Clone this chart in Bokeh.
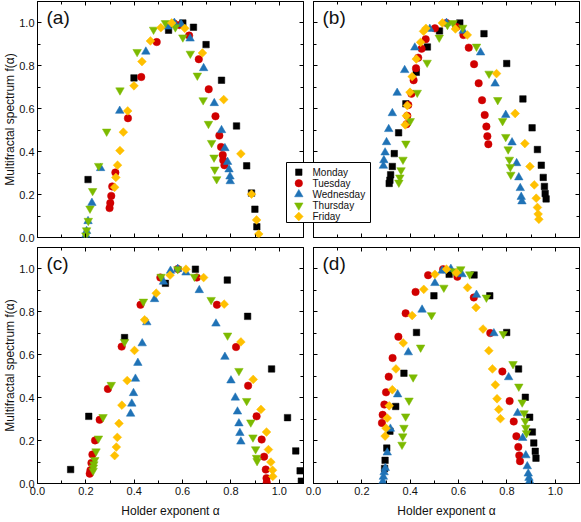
import math
from bokeh.plotting import figure
from bokeh.models import (Range1d, LinearAxis, SingleIntervalTicker, PrintfTickFormatter,
                          Label, ColumnDataSource)
from bokeh.core.properties import value
from bokeh.layouts import column, row
from bokeh.embed import file_html
from bokeh.resources import INLINE

days = ["Monday", "Tuesday", "Wednesday", "Thursday", "Friday"]
panel_tags = ["(a)", "(b)", "(c)", "(d)"]
x_title = "Holder exponent \u03b1"
y_title = "Multifractal spectrum f(\u03b1)"

# ---------------- panel (a) ----------------
a_mon_x = [0.209, 0.399, 0.542, 0.601, 0.645, 0.697, 0.761, 0.823, 0.865, 0.885, 0.899, 0.907]
a_mon_y = [0.270, 0.744, 0.966, 1.000, 0.980, 0.899, 0.733, 0.520, 0.334, 0.207, 0.132, 0.050]
a_tue_x = [0.298, 0.301, 0.305, 0.309, 0.322, 0.374, 0.429, 0.493, 0.565, 0.588, 0.627, 0.667, 0.708, 0.736, 0.752, 0.759, 0.766, 0.768, 0.773]
a_tue_y = [0.137, 0.161, 0.194, 0.238, 0.303, 0.556, 0.748, 0.911, 0.997, 0.990, 0.941, 0.831, 0.691, 0.565, 0.475, 0.422, 0.385, 0.360, 0.337]
a_wed_x = [0.200, 0.203, 0.209, 0.225, 0.261, 0.340, 0.448, 0.539, 0.566, 0.594, 0.631, 0.687, 0.731, 0.761, 0.775, 0.786, 0.792, 0.796, 0.797]
a_wed_y = [0.011, 0.030, 0.076, 0.161, 0.323, 0.590, 0.866, 0.983, 1.000, 0.994, 0.927, 0.789, 0.626, 0.500, 0.416, 0.352, 0.317, 0.284, 0.262]
a_thu_x = [0.200, 0.203, 0.210, 0.217, 0.228, 0.253, 0.286, 0.341, 0.412, 0.480, 0.529, 0.570, 0.601, 0.632, 0.661, 0.685, 0.707, 0.720, 0.730, 0.733, 0.741]
a_thu_y = [0.010, 0.034, 0.078, 0.135, 0.217, 0.334, 0.494, 0.686, 0.865, 0.969, 1.000, 0.980, 0.933, 0.857, 0.755, 0.640, 0.530, 0.441, 0.373, 0.317, 0.272]
a_fri_x = [0.319, 0.324, 0.331, 0.341, 0.355, 0.373, 0.399, 0.432, 0.467, 0.510, 0.555, 0.609, 0.682, 0.770, 0.841, 0.885, 0.906, 0.915]
a_fri_y = [0.234, 0.280, 0.337, 0.405, 0.491, 0.590, 0.707, 0.820, 0.916, 0.978, 1.000, 0.975, 0.860, 0.643, 0.390, 0.202, 0.082, 0.016]

# ---------------- panel (b) ----------------
b_mon_x = [0.313, 0.316, 0.319, 0.326, 0.334, 0.352, 0.382, 0.425, 0.471, 0.521, 0.605, 0.705, 0.799, 0.866, 0.904, 0.926, 0.942, 0.950, 0.955, 0.958, 0.962]
b_mon_y = [0.252, 0.267, 0.292, 0.331, 0.391, 0.488, 0.623, 0.770, 0.888, 0.963, 1.000, 0.950, 0.811, 0.646, 0.511, 0.410, 0.337, 0.280, 0.238, 0.205, 0.180]
b_tue_x = [0.385, 0.388, 0.392, 0.405, 0.414, 0.424, 0.433, 0.447, 0.464, 0.502, 0.550, 0.591, 0.620, 0.642, 0.664, 0.683, 0.697, 0.708, 0.715, 0.719, 0.723]
b_tue_y = [0.528, 0.567, 0.618, 0.670, 0.733, 0.789, 0.838, 0.880, 0.924, 0.975, 1.000, 0.981, 0.944, 0.885, 0.808, 0.719, 0.640, 0.571, 0.517, 0.472, 0.435]
b_wed_x = [0.289, 0.291, 0.296, 0.302, 0.311, 0.326, 0.346, 0.377, 0.419, 0.481, 0.550, 0.619, 0.691, 0.751, 0.795, 0.821, 0.840, 0.849, 0.855, 0.859, 0.862]
b_wed_y = [0.334, 0.360, 0.396, 0.444, 0.505, 0.579, 0.674, 0.780, 0.885, 0.972, 1.000, 0.963, 0.862, 0.717, 0.571, 0.443, 0.346, 0.280, 0.230, 0.189, 0.168]
b_thu_x = [0.353, 0.357, 0.362, 0.370, 0.382, 0.400, 0.429, 0.470, 0.520, 0.554, 0.577, 0.617, 0.674, 0.726, 0.762, 0.782, 0.795, 0.805, 0.810, 0.814, 0.816]
b_thu_y = [0.256, 0.280, 0.314, 0.363, 0.438, 0.543, 0.675, 0.815, 0.932, 0.991, 1.000, 0.978, 0.890, 0.764, 0.641, 0.543, 0.469, 0.411, 0.363, 0.329, 0.293]
b_fri_x = [0.379, 0.384, 0.388, 0.399, 0.408, 0.425, 0.443, 0.455, 0.465, 0.533, 0.587, 0.636, 0.757, 0.834, 0.874, 0.895, 0.913, 0.921, 0.926, 0.929, 0.932]
b_fri_y = [0.525, 0.567, 0.615, 0.677, 0.750, 0.832, 0.910, 0.961, 0.975, 1.000, 0.972, 0.944, 0.764, 0.578, 0.438, 0.331, 0.245, 0.183, 0.140, 0.109, 0.085]

# ---------------- panel (c) ----------------
c_mon_x = [0.137, 0.212, 0.360, 0.529, 0.653, 0.785, 0.869, 0.968, 1.034, 1.068, 1.086, 1.091]
c_mon_y = [0.065, 0.313, 0.680, 0.933, 0.999, 0.948, 0.779, 0.534, 0.307, 0.152, 0.059, 0.011]
c_tue_x = [0.216, 0.219, 0.223, 0.227, 0.238, 0.257, 0.291, 0.348, 0.426, 0.508, 0.580, 0.659, 0.742, 0.821, 0.871, 0.906, 0.927, 0.937, 0.944, 0.947, 0.948]
c_tue_y = [0.046, 0.062, 0.096, 0.135, 0.201, 0.297, 0.441, 0.638, 0.833, 0.960, 1.000, 0.960, 0.833, 0.636, 0.456, 0.313, 0.205, 0.125, 0.065, 0.025, 0.005]
c_wed_x = [0.385, 0.390, 0.397, 0.405, 0.415, 0.433, 0.452, 0.484, 0.521, 0.550, 0.580, 0.614, 0.669, 0.738, 0.775, 0.800, 0.818, 0.827, 0.833, 0.837, 0.841]
c_wed_y = [0.325, 0.372, 0.421, 0.488, 0.562, 0.653, 0.751, 0.859, 0.940, 0.991, 1.000, 0.983, 0.901, 0.745, 0.590, 0.480, 0.400, 0.335, 0.280, 0.235, 0.195]
c_thu_x = [0.230, 0.231, 0.233, 0.237, 0.242, 0.252, 0.271, 0.305, 0.360, 0.438, 0.511, 0.580, 0.649, 0.718, 0.786, 0.833, 0.865, 0.882, 0.891, 0.902, 0.906, 0.908]
c_thu_y = [0.060, 0.075, 0.090, 0.110, 0.150, 0.210, 0.310, 0.460, 0.660, 0.848, 0.964, 0.999, 0.964, 0.856, 0.690, 0.525, 0.385, 0.285, 0.215, 0.160, 0.120, 0.105]
c_fri_x = [0.319, 0.326, 0.330, 0.337, 0.349, 0.371, 0.401, 0.443, 0.491, 0.548, 0.614, 0.687, 0.772, 0.841, 0.892, 0.924, 0.947, 0.955, 0.965, 0.972, 0.973]
c_fri_y = [0.130, 0.170, 0.215, 0.280, 0.365, 0.480, 0.620, 0.763, 0.887, 0.971, 0.999, 0.960, 0.836, 0.660, 0.485, 0.345, 0.240, 0.158, 0.100, 0.062, 0.033]

# ---------------- panel (d) ----------------
d_mon_x = [0.294, 0.296, 0.303, 0.316, 0.340, 0.374, 0.426, 0.498, 0.561, 0.664, 0.729, 0.799, 0.848, 0.876, 0.894, 0.905, 0.911, 0.917, 0.920]
d_mon_y = [0.070, 0.108, 0.165, 0.244, 0.359, 0.514, 0.704, 0.875, 0.975, 0.972, 0.875, 0.704, 0.534, 0.402, 0.309, 0.240, 0.189, 0.150, 0.118]
d_tue_x = [0.283, 0.286, 0.293, 0.300, 0.311, 0.327, 0.351, 0.381, 0.422, 0.474, 0.536, 0.595, 0.663, 0.731, 0.781, 0.811, 0.828, 0.839, 0.847, 0.851, 0.854]
d_tue_y = [0.282, 0.320, 0.368, 0.425, 0.498, 0.585, 0.684, 0.793, 0.893, 0.971, 0.999, 0.964, 0.867, 0.701, 0.522, 0.384, 0.289, 0.220, 0.170, 0.131, 0.104]
d_wed_x = [0.287, 0.289, 0.292, 0.297, 0.305, 0.318, 0.348, 0.392, 0.449, 0.502, 0.532, 0.568, 0.614, 0.674, 0.746, 0.807, 0.844, 0.865, 0.878, 0.884, 0.888, 0.891, 0.894]
d_wed_y = [0.010, 0.031, 0.052, 0.072, 0.144, 0.255, 0.415, 0.611, 0.810, 0.934, 0.991, 1.000, 0.975, 0.879, 0.700, 0.495, 0.328, 0.212, 0.131, 0.080, 0.046, 0.026, 0.012]
d_thu_x = [0.366, 0.369, 0.374, 0.381, 0.395, 0.412, 0.443, 0.488, 0.539, 0.580, 0.609, 0.646, 0.715, 0.785, 0.825, 0.849, 0.863, 0.871, 0.876, 0.878, 0.881]
d_thu_y = [0.181, 0.220, 0.260, 0.313, 0.387, 0.495, 0.634, 0.785, 0.913, 0.990, 0.999, 0.975, 0.867, 0.697, 0.557, 0.452, 0.378, 0.328, 0.291, 0.260, 0.235]
d_fri_x = [0.296, 0.300, 0.305, 0.313, 0.326, 0.341, 0.371, 0.408, 0.456, 0.502, 0.550, 0.591, 0.637, 0.672, 0.701, 0.725, 0.740, 0.752, 0.759, 0.766, 0.773]
d_fri_y = [0.221, 0.258, 0.305, 0.362, 0.437, 0.534, 0.655, 0.783, 0.905, 0.975, 0.999, 0.982, 0.913, 0.820, 0.720, 0.619, 0.534, 0.460, 0.395, 0.345, 0.302]

# ---------------- styling ----------------
FONT = "Liberation Sans"
colors = ["#000000", "#d00000", "#1f72b6", "#7cba00", "#ffc000"]
markers = ["square", "circle", "triangle", "inverted_triangle", "square"]
sizes = [6.5, 7.5, 8.5, 8.5, 6.2]
angles = [0.0, 0.0, 0.0, 0.0, math.pi / 4]

panels = {
    "a": [(a_mon_x, a_mon_y), (a_tue_x, a_tue_y), (a_wed_x, a_wed_y), (a_thu_x, a_thu_y), (a_fri_x, a_fri_y)],
    "b": [(b_mon_x, b_mon_y), (b_tue_x, b_tue_y), (b_wed_x, b_wed_y), (b_thu_x, b_thu_y), (b_fri_x, b_fri_y)],
    "c": [(c_mon_x, c_mon_y), (c_tue_x, c_tue_y), (c_wed_x, c_wed_y), (c_thu_x, c_thu_y), (c_fri_x, c_fri_y)],
    "d": [(d_mon_x, d_mon_y), (d_tue_x, d_tue_y), (d_wed_x, d_wed_y), (d_thu_x, d_thu_y), (d_fri_x, d_fri_y)],
}


def make_axis(show_labels, title=None, title_standoff=0):
    ax = LinearAxis(ticker=SingleIntervalTicker(interval=0.2, num_minor_ticks=2),
                    formatter=PrintfTickFormatter(format="%.1f"))
    ax.axis_line_color = None
    ax.major_tick_in = 4
    ax.major_tick_out = 0
    ax.minor_tick_in = 3
    ax.minor_tick_out = 0
    ax.major_tick_line_color = "black"
    ax.minor_tick_line_color = "black"
    if show_labels:
        ax.major_label_text_font = FONT
        ax.major_label_text_font_size = "11px"
        ax.major_label_text_color = "#111111"
        ax.major_label_standoff = 3
    else:
        ax.major_label_text_font_size = "1px"
        ax.major_label_text_color = None
        ax.major_label_text_alpha = 0
        ax.major_label_standoff = 0
    if title:
        ax.axis_label = title
        ax.axis_label_text_font = FONT
        ax.axis_label_text_font_size = "12px"
        ax.axis_label_text_font_style = "normal"
        ax.axis_label_text_color = "#111111"
        ax.axis_label_standoff = title_standoff
    return ax


def make_panel(key, tag, width, height, borders, x_labels, y_labels):
    left, right, top, bottom = borders
    p = figure(width=width, height=height, x_range=Range1d(0, 1.1), y_range=Range1d(0, 1.1),
               output_backend="svg", toolbar_location=None,
               x_axis_location=None, y_axis_location=None,
               min_border_left=left, min_border_right=right,
               min_border_top=top, min_border_bottom=bottom)
    p.xgrid.grid_line_color = None
    p.ygrid.grid_line_color = None
    p.outline_line_color = "black"
    p.outline_line_width = 1
    p.outline_line_alpha = 1
    p.background_fill_color = "white"
    p.border_fill_color = None
    p.add_layout(make_axis(x_labels, x_title if x_labels else None, 6), "below")
    p.add_layout(make_axis(False), "above")
    p.add_layout(make_axis(y_labels, y_title if y_labels else None, -1), "left")
    p.add_layout(make_axis(False), "right")
    for i, (xs, ys) in enumerate(panels[key]):
        p.scatter(xs, ys, marker=markers[i], size=sizes[i], angle=angles[i],
                  fill_color=colors[i], line_color=colors[i], line_width=0.5)
    p.add_layout(Label(x=0, y=1.1, x_offset=9, y_offset=-5, text=tag, text_font=FONT,
                       text_font_size="19px", text_baseline="top", text_color="#111111"))
    return p


pa = make_panel("a", panel_tags[0], 305, 244, (36, 2, 1, 7), False, True)
pb = make_panel("b", panel_tags[1], 276, 244, (8, 2, 1, 7), False, False)
pc = make_panel("c", panel_tags[2], 305, 277, (36, 2, 3, 38), True, True)
pd_ = make_panel("d", panel_tags[3], 276, 277, (8, 2, 3, 38), True, False)

# ---------------- legend: a small boxed plot laid over the gap between (a) and (b) ----------------
BOX_W, BOX_H = 84, 66
pleg = figure(width=BOX_W + 2, height=BOX_H + 2, x_range=Range1d(0, BOX_W), y_range=Range1d(0, BOX_H),
              output_backend="svg", toolbar_location=None,
              x_axis_location=None, y_axis_location=None,
              min_border_left=1, min_border_right=1, min_border_top=1, min_border_bottom=1,
              styles={"margin-left": "-296px", "margin-right": "%dpx" % (296 - BOX_W - 2),
                      "margin-top": "161px", "position": "relative", "z-index": "10"})
pleg.xgrid.grid_line_color = None
pleg.ygrid.grid_line_color = None
pleg.outline_line_color = "black"
pleg.outline_line_width = 1
pleg.background_fill_color = "white"
pleg.border_fill_color = None

row_pitch, first_row = 12.2, 10.6
leg_src = ColumnDataSource(dict(
    x=[12.3] * len(days),
    y=[BOX_H - first_row - row_pitch * i for i in range(len(days))],
    tx=[26.0] * len(days),
    label=days, marker=markers, color=colors, size=sizes, angle=angles,
))
pleg.scatter(x="x", y="y", marker="marker", size="size", angle="angle",
             fill_color="color", line_color="color", line_width=0.5, source=leg_src)
pleg.text(x="tx", y="y", text="label", source=leg_src, text_font=value(FONT),
          text_font_size=value("10px"), text_baseline="middle", text_align="left",
          text_color="#111111")

layout = column(row(pa, pb, pleg), row(pc, pd_))

open("out.html", "w").write(file_html(layout, INLINE))
